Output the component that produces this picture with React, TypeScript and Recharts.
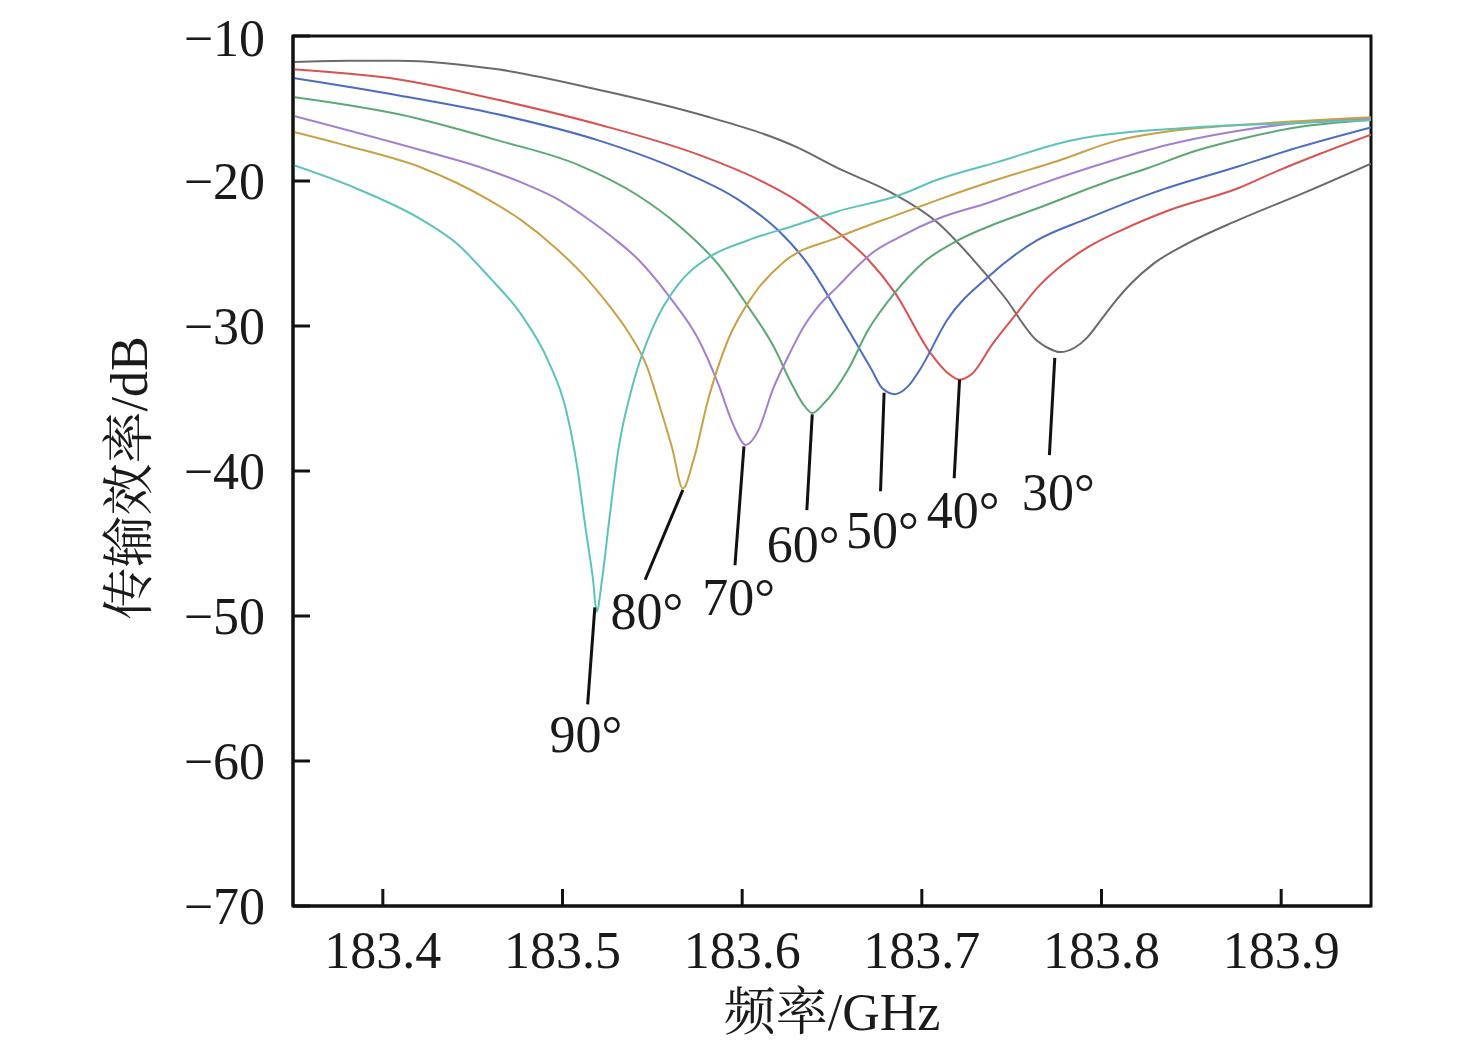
import React from 'react';
import { LineChart, Line, XAxis, YAxis, ReferenceArea, ReferenceLine, ReferenceDot } from 'recharts';

// frequency (GHz) / transmission (dB) for each incidence angle
const freq30 = [183.350, 183.381, 183.409, 183.464, 183.520, 183.576, 183.631, 183.653, 183.683, 183.709, 183.727, 183.746, 183.764, 183.770, 183.777, 183.785, 183.792, 183.799, 183.807, 183.817, 183.829, 183.848, 183.876, 183.913, 183.95];
const db30 = [-11.8, -11.7, -11.7, -12.3, -13.7, -15.4, -17.7, -19.1, -20.8, -22.9, -25.2, -28.0, -31.0, -31.5, -31.8, -31.5, -30.8, -29.7, -28.4, -27.0, -25.7, -24.3, -22.7, -20.8, -18.8];

const freq40 = [183.350, 183.409, 183.464, 183.520, 183.576, 183.609, 183.631, 183.653, 183.670, 183.685, 183.705, 183.714, 183.721, 183.728, 183.739, 183.753, 183.764, 183.776, 183.792, 183.811, 183.838, 183.876, 183.898, 183.922, 183.95];
const db40 = [-12.3, -13.0, -14.4, -16.1, -18.2, -19.9, -21.4, -23.5, -25.4, -27.7, -31.9, -33.2, -33.7, -33.3, -31.3, -29.1, -27.4, -26.0, -24.6, -23.4, -22.0, -20.5, -19.3, -18.1, -16.8];

const freq50 = [183.350, 183.409, 183.464, 183.520, 183.564, 183.598, 183.620, 183.637, 183.653, 183.664, 183.672, 183.678, 183.685, 183.692, 183.699, 183.714, 183.737, 183.764, 183.792, 183.829, 183.876, 183.909, 183.95];
const db50 = [-12.9, -14.1, -15.4, -17.2, -19.2, -21.3, -23.4, -25.8, -29.0, -31.3, -33.0, -34.3, -34.7, -34.2, -33.0, -29.6, -26.6, -24.1, -22.6, -20.8, -19.0, -17.7, -16.3];

const freq60 = [183.350, 183.409, 183.464, 183.509, 183.542, 183.564, 183.587, 183.603, 183.617, 183.628, 183.634, 183.639, 183.645, 183.659, 183.670, 183.685, 183.701, 183.720, 183.742, 183.764, 183.802, 183.826, 183.853, 183.881, 183.909, 183.95];
const db60 = [-14.2, -15.4, -17.2, -18.9, -21.0, -23.0, -25.8, -28.6, -31.3, -34.1, -35.4, -36.0, -35.4, -33.0, -30.3, -27.7, -25.6, -24.1, -22.9, -21.9, -20.1, -19.1, -17.9, -17.0, -16.3, -15.8];

const freq70 = [183.350, 183.422, 183.453, 183.477, 183.498, 183.514, 183.528, 183.542, 183.559, 183.576, 183.587, 183.595, 183.602, 183.609, 183.617, 183.626, 183.634, 183.642, 183.653, 183.664, 183.672, 183.687, 183.709, 183.737, 183.764, 183.798, 183.837, 183.873, 183.909, 183.95];
const db70 = [-15.5, -17.9, -19.0, -20.1, -21.3, -22.6, -23.9, -25.4, -27.9, -31.0, -34.1, -36.8, -38.2, -37.2, -34.4, -32.0, -30.1, -28.7, -27.3, -25.9, -25.0, -23.9, -22.6, -21.5, -20.3, -18.9, -17.5, -16.6, -16.0, -15.7];

const freq80 = [183.350, 183.381, 183.422, 183.459, 183.477, 183.496, 183.514, 183.526, 183.537, 183.547, 183.554, 183.561, 183.567, 183.573, 183.581, 183.592, 183.606, 183.623, 183.653, 183.687, 183.709, 183.742, 183.776, 183.809, 183.842, 183.881, 183.95];
const db80 = [-16.6, -17.6, -19.1, -21.3, -22.7, -24.6, -26.8, -28.6, -30.5, -32.8, -35.5, -38.4, -41.2, -39.2, -35.1, -31.0, -27.9, -25.6, -23.9, -22.3, -21.3, -19.9, -18.6, -17.2, -16.5, -16.1, -15.6];

const freq90 = [183.350, 183.385, 183.422, 183.441, 183.459, 183.477, 183.492, 183.502, 183.508, 183.513, 183.517, 183.519, 183.522, 183.526, 183.531, 183.539, 183.551, 183.564, 183.581, 183.603, 183.631, 183.653, 183.687, 183.709, 183.742, 183.783, 183.853, 183.909, 183.95];
const db90 = [-18.9, -20.5, -22.7, -24.3, -26.6, -29.2, -32.4, -35.8, -39.6, -44.1, -47.5, -49.7, -47.5, -43.4, -38.6, -34.1, -29.9, -27.2, -25.3, -24.1, -23.0, -22.1, -21.0, -19.9, -18.7, -17.2, -16.3, -16.0, -15.8];

const xTicks = [183.4, 183.5, 183.6, 183.7, 183.8, 183.9];
const yTicks = [-70, -60, -50, -40, -30, -20, -10];

// angle labels with leader lines (data coordinates)
const angleNames = ['30°', '40°', '50°', '60°', '70°', '80°', '90°'];
const leaderTop = [[183.774, -32.2], [183.721, -33.7], [183.679, -34.6], [183.639, -36.1], [183.601, -38.3], [183.567, -41.3], [183.518, -49.4]];
const leaderEnd = [[183.771, -38.9], [183.718, -40.5], [183.677, -41.4], [183.636, -42.7], [183.596, -46.5], [183.546, -47.5], [183.514, -56.1]];
const labelPos = [[183.776, -41.5], [183.723, -42.7], [183.678, -44.1], [183.634, -45.1], [183.598, -48.7], [183.547, -49.7], [183.513, -58.2]];

const series = [
  { name: '30°', freq: freq30, db: db30, color: '#6a6a6a' },
  { name: '40°', freq: freq40, db: db40, color: '#d9524f' },
  { name: '50°', freq: freq50, db: db50, color: '#4c6cbf' },
  { name: '60°', freq: freq60, db: db60, color: '#5aa873' },
  { name: '70°', freq: freq70, db: db70, color: '#a27fcf' },
  { name: '80°', freq: freq80, db: db80, color: '#c9a045' },
  { name: '90°', freq: freq90, db: db90, color: '#5cc3bb' },
];

const SERIF = '"Liberation Serif", "Times New Roman", serif';
const CJK = '"Liberation Serif", "Noto Serif CJK SC", "Noto Sans CJK SC", serif';
const tickStyle = { fontSize: 52, fill: '#1a1a1a', fontFamily: SERIF };

const minus = (v: number) => String(v).replace('-', '\u2212');

export default function App() {
  return (
    <div style={{ position: 'relative', width: 1460, height: 1040, background: '#fff' }}>
      <LineChart width={1460} height={1040} margin={{ top: 28, right: 97, left: 165, bottom: 82 }}>
        <XAxis
          type="number"
          dataKey="f"
          domain={[183.35, 183.95]}
          ticks={xTicks}
          allowDataOverflow
          tickFormatter={(v: number) => v.toFixed(1)}
          tick={tickStyle}
          tickSize={-17}
          tickMargin={42}
          height={60}
          axisLine={{ stroke: '#111', strokeWidth: 3 }}
          tickLine={{ stroke: '#111', strokeWidth: 3 }}
        />
        <YAxis
          type="number"
          domain={[-70, -10]}
          ticks={yTicks}
          allowDataOverflow
          tickFormatter={minus}
          tick={tickStyle}
          tickSize={-17}
          tickMargin={45}
          width={120}
          axisLine={{ stroke: '#111', strokeWidth: 3 }}
          tickLine={{ stroke: '#111', strokeWidth: 3 }}
        />
        <ReferenceArea x1={183.35} x2={183.95} y1={-70} y2={-10} fill="none" stroke="#111" strokeWidth={3} ifOverflow="visible" />
        {series.map((s) => (
          <Line
            key={s.name}
            data={s.freq.map((f, i) => ({ f, v: s.db[i] }))}
            dataKey="v"
            type="monotone"
            stroke={s.color}
            strokeWidth={2}
            dot={false}
            isAnimationActive={false}
          />
        ))}
        {angleNames.map((n, i) => (
          <ReferenceLine
            key={'l' + n}
            segment={[
              { x: leaderTop[i][0], y: leaderTop[i][1] },
              { x: leaderEnd[i][0], y: leaderEnd[i][1] },
            ]}
            stroke="#111"
            strokeWidth={3}
          />
        ))}
        {angleNames.map((n, i) => (
          <ReferenceDot
            key={'t' + n}
            x={labelPos[i][0]}
            y={labelPos[i][1]}
            r={0}
            shape={(p: any) => (
              <text x={p.cx} y={p.cy} textAnchor="middle" dominantBaseline="central" fontSize={52} fontFamily={SERIF} fill="#1a1a1a">
                {n}
              </text>
            )}
          />
        ))}
      </LineChart>
      <div
        style={{
          position: 'absolute',
          left: 122,
          top: 470,
          transform: 'translate(-50%, -50%) rotate(-90deg)',
          whiteSpace: 'nowrap',
          fontSize: 52,
          fontFamily: CJK,
          color: '#1a1a1a',
          lineHeight: 1,
        }}
      >
        传输效率/dB
      </div>
      <div
        style={{
          position: 'absolute',
          left: 824,
          top: 1005,
          transform: 'translate(-50%, -50%)',
          whiteSpace: 'nowrap',
          fontSize: 52,
          fontFamily: CJK,
          color: '#1a1a1a',
          lineHeight: 1,
        }}
      >
        频率/GHz
      </div>
    </div>
  );
}
